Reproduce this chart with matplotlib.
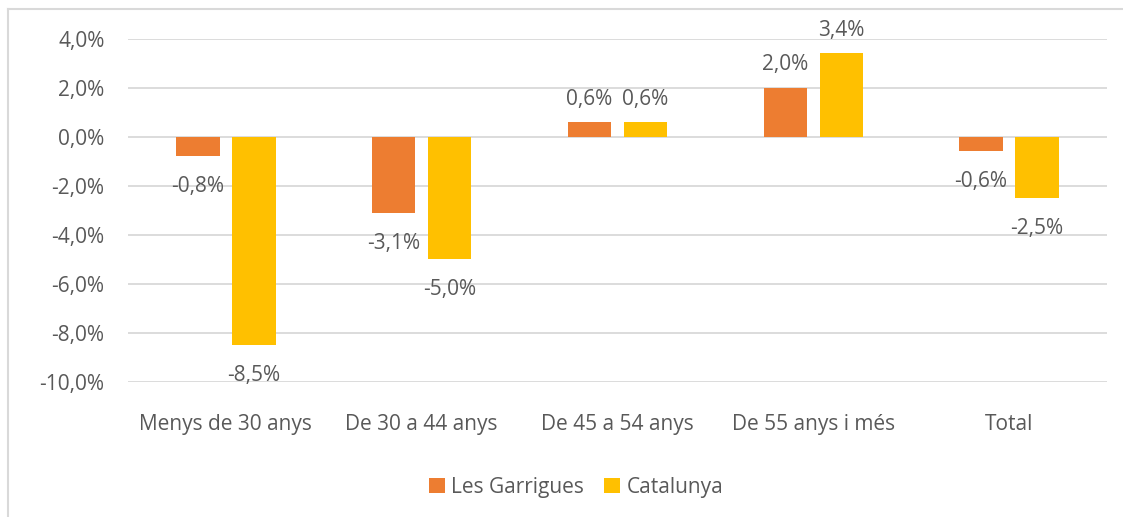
import matplotlib.pyplot as plt
import numpy as np
from matplotlib.lines import Line2D

# dades
grups = ["Menys de 30 anys", "De 30 a 44 anys", "De 45 a 54 anys", "De 55 anys i més", "Total"]
garrigues = [-0.8, -3.1, 0.6, 2.0, -0.6]
catalunya = [-8.5, -5.0, 0.6, 3.4, -2.5]
serie_noms = ["Les Garrigues", "Catalunya"]
yticks = [4, 2, 0, -2, -4, -6, -8, -10]

gris = "#595959"
plt.rcParams['font.family'] = ['Open Sans', 'DejaVu Sans']
fs = 15

fig = plt.figure(figsize=(11.23, 5.17), dpi=100)
ax = fig.add_axes([128/1123, 135.3/517, 979/1123, 343/517])

x = np.arange(len(grups))
w = 0.222
off = 0.143
b1 = ax.bar(x - off, garrigues, w, color="#ED7D31", label=serie_noms[0], zorder=3)
b2 = ax.bar(x + off, catalunya, w, color="#FFC000", label=serie_noms[1], zorder=3)

def fmt(v):
    return ("%.1f%%" % v).replace(".", ",")

for barres, vals in [(b1, garrigues), (b2, catalunya)]:
    for r, v in zip(barres, vals):
        xc = r.get_x() + r.get_width() / 2
        dy = 16.5 if v >= 0 else -22
        ax.annotate(fmt(v), xy=(xc, v), xytext=(0, dy), textcoords="offset points",
                    ha="center", va="center", fontsize=fs, color=gris)

ax.set_xlim(-0.5, len(grups) - 0.5)
ax.set_ylim(-10, 4)
ax.set_yticks(yticks)
ax.set_yticklabels([fmt(t) for t in yticks], fontsize=fs, color=gris)
ax.set_xticks(x)
ax.set_xticklabels(grups, fontsize=fs, color=gris)
ax.tick_params(axis="both", length=0)
ax.tick_params(axis="y", pad=17)
ax.tick_params(axis="x", pad=23)
ax.grid(axis="y", color="#D9D9D9", linewidth=1.3, zorder=0)
for s in ax.spines.values():
    s.set_visible(False)

fig.legend(loc="center", bbox_to_anchor=(576/1123, 1 - 487/517), ncol=2, frameon=False,
           fontsize=fs, labelcolor=gris, handlelength=0.75, handleheight=0.75,
           handletextpad=0.3, columnspacing=1.0)

# marc del gràfic
fig.add_artist(Line2D([8/1123, 8/1123], [0, 1 - 9/517], color="#D9D9D9", linewidth=1.5))
fig.add_artist(Line2D([8/1123, 1], [1 - 9/517, 1 - 9/517], color="#D9D9D9", linewidth=1.5))

fig.savefig("out.png", dpi=100)
